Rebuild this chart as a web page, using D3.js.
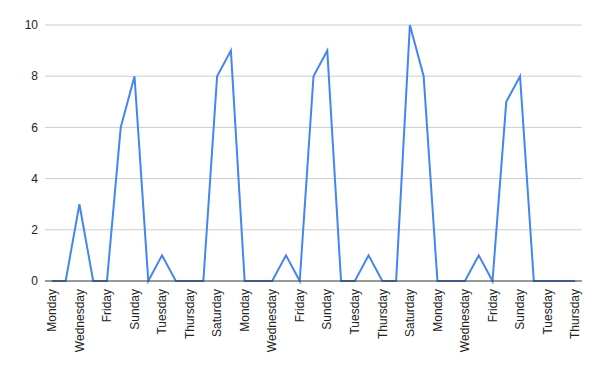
<!DOCTYPE html>
<html>
<head>
<meta charset="utf-8">
<script src="https://cdn.jsdelivr.net/npm/d3@7"></script>
<style>
  body { margin: 0; background: #fff; }
  text { font-family: "Liberation Sans", Arial, sans-serif; }
</style>
</head>
<body>
<svg id="chart" width="600" height="371"></svg>
<script>
const weekDays = ['Monday', 'Tuesday', 'Wednesday', 'Thursday', 'Friday', 'Saturday', 'Sunday']

// 39 consecutive days, starting on a Monday
const days = d3.range(39).map((i) => weekDays[i % 7])

const values = [
  0, 0, 3, 0, 0, 6, 8,
  0, 1, 0, 0, 0, 8, 9,
  0, 0, 0, 1, 0, 8, 9,
  0, 0, 1, 0, 0, 10, 8,
  0, 0, 0, 1, 0, 7, 8,
  0, 0, 0, 0
]

const yTicks = [0, 2, 4, 6, 8, 10]

const margin = { top: 25, right: 18, bottom: 90, left: 45 }
const width = 600
const height = 371

const svg = d3.select('#chart')

const x = d3
  .scaleBand()
  .domain(d3.range(days.length))
  .range([margin.left, width - margin.right])

const y = d3
  .scaleLinear()
  .domain([0, 10])
  .range([height - margin.bottom, margin.top])

// horizontal grid lines
svg
  .append('g')
  .selectAll('line')
  .data(yTicks.filter((d) => d !== 0))
  .enter()
  .append('line')
  .attr('x1', margin.left)
  .attr('x2', width - margin.right)
  .attr('y1', (d) => y(d))
  .attr('y2', (d) => y(d))
  .attr('stroke', '#cccccc')
  .attr('stroke-width', 1)

// y labels
svg
  .append('g')
  .selectAll('text')
  .data(yTicks)
  .enter()
  .append('text')
  .attr('x', margin.left - 7)
  .attr('y', (d) => y(d))
  .attr('dy', '0.35em')
  .attr('text-anchor', 'end')
  .attr('font-size', '12px')
  .attr('fill', '#222')
  .text((d) => d)

// the line
const line = d3
  .line()
  .x((d, i) => x(i) + x.bandwidth() / 2)
  .y((d) => y(d))

svg
  .append('path')
  .datum(values)
  .attr('d', line)
  .attr('fill', 'none')
  .attr('stroke', '#4285f4')
  .attr('stroke-width', 2)
  .attr('stroke-linejoin', 'miter')

// baseline
svg
  .append('line')
  .attr('x1', margin.left)
  .attr('x2', width - margin.right)
  .attr('y1', y(0))
  .attr('y2', y(0))
  .attr('stroke', '#333')
  .attr('stroke-width', 1)

// x labels, every other day, rotated
svg
  .append('g')
  .selectAll('text')
  .data(days.map((d, i) => ({ d, i })).filter((o) => o.i % 2 === 0))
  .enter()
  .append('text')
  .attr(
    'transform',
    (o) => `translate(${x(o.i) + x.bandwidth() / 2},${y(0) + 8}) rotate(-90)`
  )
  .attr('dy', '0.35em')
  .attr('text-anchor', 'end')
  .attr('font-size', '12px')
  .attr('fill', '#222')
  .text((o) => o.d)
</script>
</body>
</html>
